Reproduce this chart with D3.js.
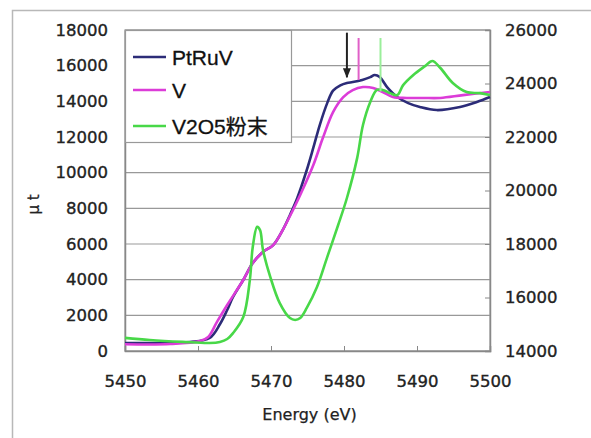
<!DOCTYPE html>
<html>
<head>
<meta charset="utf-8">
<script src="https://cdn.jsdelivr.net/npm/d3@7"></script>
<style>
  body { margin: 0; background: #fff; }
  svg { display: block; }
</style>
</head>
<body>
<div id="chart"></div>
<script>
// energies (eV) and mu-t readings
const ptruvE = [5450, 5454.8, 5458.9, 5461.6, 5463, 5464, 5464.8, 5466.2, 5467.5, 5468.9, 5470.3, 5471.6, 5472.6, 5473.6, 5474.9, 5475.8, 5476.7, 5477.7, 5478.5, 5479.5, 5480.4, 5481.2, 5482.5, 5483.6, 5484.2, 5484.9, 5485.9, 5487.3, 5488.8, 5490.4, 5492.7, 5495.9, 5498.2, 5500];
const ptruvV = [450, 450, 500, 730, 1500, 2300, 3030, 3980, 4930, 5550, 5940, 6780, 7630, 8580, 10150, 11400, 12700, 13900, 14600, 14900, 15030, 15080, 15200, 15360, 15480, 15360, 14800, 14240, 13900, 13680, 13510, 13680, 13960, 14240];

const vE = [5450, 5456.2, 5460.3, 5461.4, 5462.6, 5464, 5466.2, 5467.5, 5468.9, 5470.3, 5471.6, 5472.6, 5474, 5475.8, 5477.1, 5478.5, 5479.9, 5481.2, 5482.6, 5484, 5485.3, 5486.7, 5488.6, 5490.8, 5493.2, 5496.3, 5500];
const vV = [380, 390, 560, 785, 1630, 2580, 3980, 4930, 5550, 5940, 6780, 7570, 8750, 10430, 11940, 13400, 14240, 14630, 14800, 14750, 14520, 14240, 14190, 14190, 14190, 14350, 14520];

// V2O5 powder, plotted on the secondary (right) axis
const v2o5E = [5450, 5453.4, 5457.9, 5461.6, 5463, 5464, 5464.8, 5466.2, 5467.1, 5467.5, 5468.1, 5468.5, 5468.9, 5469.9, 5471.2, 5472.6, 5473.3, 5474, 5474.9, 5476.3, 5477.7, 5479.2, 5480.4, 5481.8, 5482.6, 5483.6, 5484.5, 5485.3, 5486.3, 5487.3, 5488.1, 5489.5, 5491.1, 5492.1, 5493.2, 5494.9, 5496.8, 5498.6, 5500];
const v2o5V = [14490, 14410, 14340, 14300, 14340, 14450, 14670, 15270, 16650, 17890, 18640, 18520, 17780, 16770, 15790, 15230, 15160, 15230, 15610, 16390, 17510, 18710, 19720, 21210, 22450, 23310, 23760, 23760, 23640, 23570, 23940, 24320, 24650, 24840, 24580, 24020, 23680, 23640, 23570];

const xTicks = [5450, 5460, 5470, 5480, 5490, 5500];
const yLeftTicks = [0, 2000, 4000, 6000, 8000, 10000, 12000, 14000, 16000, 18000];
const yRightTicks = [14000, 16000, 18000, 20000, 22000, 24000, 26000];

const seriesNames = ["PtRuV", "V", "V2O5粉末"];
const colors = ["#2c2c78", "#dc3cd8", "#48d848"];

// edge markers: energy, top value, bottom value (left axis)
const markerE = [5480.4, 5482.0, 5485.0];
const markerTop = [17850, 17550, 17550];
const markerBottom = [15350, 15200, 14550];
const markerColors = ["#222", "#e060c8", "#9aee9a"];

const width = 591, height = 438;
const margin = { left: 125, right: 101, top: 30, bottom: 87 };
const chartwidth = width - margin.left - margin.right;
const chartheight = height - margin.top - margin.bottom;

const svg = d3.select("#chart").append("svg")
  .attr("width", width)
  .attr("height", height);

// outer frame (runs past the picture edge)
svg.append("rect")
  .attr("x", 12.5).attr("y", 10.5)
  .attr("width", 700).attr("height", 500)
  .attr("fill", "none").attr("stroke", "#b8b8b8").attr("stroke-width", 1.5);

const x = d3.scaleLinear().domain([5450, 5500]).range([margin.left, margin.left + chartwidth]);
const y = d3.scaleLinear().domain([0, 18000]).range([margin.top + chartheight, margin.top]);
const y2 = d3.scaleLinear().domain([14000, 26000]).range([margin.top + chartheight, margin.top]);

// gridlines
svg.append("g")
  .selectAll("line")
  .data(yLeftTicks)
  .join("line")
  .attr("x1", margin.left).attr("x2", margin.left + chartwidth)
  .attr("y1", (d) => y(d)).attr("y2", (d) => y(d))
  .attr("stroke", "#999").attr("stroke-width", 1.2);

// plot border
svg.append("rect")
  .attr("x", margin.left).attr("y", margin.top)
  .attr("width", chartwidth).attr("height", chartheight)
  .attr("fill", "none").attr("stroke", "#999").attr("stroke-width", 1.2);

const tickFont = "'DejaVu Sans', sans-serif";
const styleText = (sel, size) => sel
  .attr("font-family", tickFont).attr("font-size", size)
  .attr("fill", "#222").attr("stroke", "#222").attr("stroke-width", 0.35);

// x axis
const xAxis = svg.append("g")
  .attr("transform", "translate(0," + (margin.top + chartheight) + ")")
  .call(d3.axisBottom(x).tickValues(xTicks).tickSize(-5).tickPadding(24).tickFormat(d3.format("d")));
xAxis.select(".domain").attr("stroke", "#888").attr("stroke-width", 1.5);
xAxis.selectAll(".tick line").attr("stroke", "#888");
styleText(xAxis.selectAll("text"), 16.5);

// left axis
const yAxis = svg.append("g")
  .attr("transform", "translate(" + margin.left + ",0)")
  .call(d3.axisLeft(y).tickValues(yLeftTicks).tickSize(0).tickPadding(17).tickFormat(d3.format("d")));
yAxis.select(".domain").attr("stroke", "#888").attr("stroke-width", 1.5);
styleText(yAxis.selectAll("text"), 16.5);

// right axis
const y2Axis = svg.append("g")
  .attr("transform", "translate(" + (margin.left + chartwidth) + ",0)")
  .call(d3.axisRight(y2).tickValues(yRightTicks).tickSize(-5).tickPadding(15).tickFormat(d3.format("d")));
y2Axis.select(".domain").attr("stroke", "#888").attr("stroke-width", 1.5);
y2Axis.selectAll(".tick line").attr("stroke", "#888");
styleText(y2Axis.selectAll("text"), 16.5);

// axis titles
styleText(svg.append("text"), 16)
  .attr("x", x(5475) + 2).attr("y", 420)
  .attr("text-anchor", "middle")
  .attr("stroke-width", 0.25)
  .text("Energy (eV)");

styleText(svg.append("text"), 15)
  .attr("transform", "translate(39," + (y(9000) + 14) + ") rotate(-90)")
  .attr("text-anchor", "middle")
  .attr("stroke-width", 0.25)
  .text("μ t");

// curves
const series = [
  { e: ptruvE, v: ptruvV, scale: y },
  { e: vE, v: vV, scale: y },
  { e: v2o5E, v: v2o5V, scale: y2 },
];
const lineGen = (s) => d3.line()
  .x((d, i) => x(s.e[i]))
  .y((d) => s.scale(d))
  .curve(d3.curveCatmullRom.alpha(0.5))(s.v);

svg.append("g")
  .selectAll("path")
  .data(series)
  .join("path")
  .attr("d", (d) => lineGen(d))
  .attr("fill", "none")
  .attr("stroke", (d, i) => colors[i])
  .attr("stroke-width", 2.6)
  .attr("stroke-linejoin", "round");

// edge markers
svg.append("defs").append("marker")
  .attr("id", "arrow")
  .attr("viewBox", "0 0 10 10")
  .attr("refX", 9).attr("refY", 5)
  .attr("markerWidth", 5).attr("markerHeight", 5)
  .attr("orient", "auto")
  .append("path").attr("d", "M0,1 L10,5 L0,9 Z").attr("fill", "#222");

svg.append("g")
  .selectAll("line")
  .data(markerE)
  .join("line")
  .attr("x1", (d) => x(d)).attr("x2", (d) => x(d))
  .attr("y1", (d, i) => y(markerTop[i])).attr("y2", (d, i) => y(markerBottom[i]))
  .attr("stroke", (d, i) => markerColors[i])
  .attr("stroke-width", 2)
  .attr("marker-end", (d, i) => (i === 0 ? "url(#arrow)" : null));

// legend
const legend = svg.append("g");
legend.append("rect")
  .attr("x", margin.left + 0.5).attr("y", margin.top + 0.5)
  .attr("width", 166).attr("height", 112)
  .attr("fill", "#fff").attr("stroke", "#999").attr("stroke-width", 1.2);

const legendY = [57, 90, 126];
const items = legend.selectAll("g")
  .data(seriesNames)
  .join("g")
  .attr("transform", (d, i) => "translate(133," + legendY[i] + ")");
items.append("line")
  .attr("x1", 0).attr("x2", 33)
  .attr("stroke", (d, i) => colors[i])
  .attr("stroke-width", 2.6);
items.append("text")
  .attr("x", 39).attr("dy", "0.36em")
  .attr("font-family", "'Liberation Sans', 'Noto Sans CJK JP', sans-serif")
  .attr("font-size", 21).attr("fill", "#111")
  .attr("stroke", "#111").attr("stroke-width", 0.3)
  .text((d) => d);
</script>
</body>
</html>
